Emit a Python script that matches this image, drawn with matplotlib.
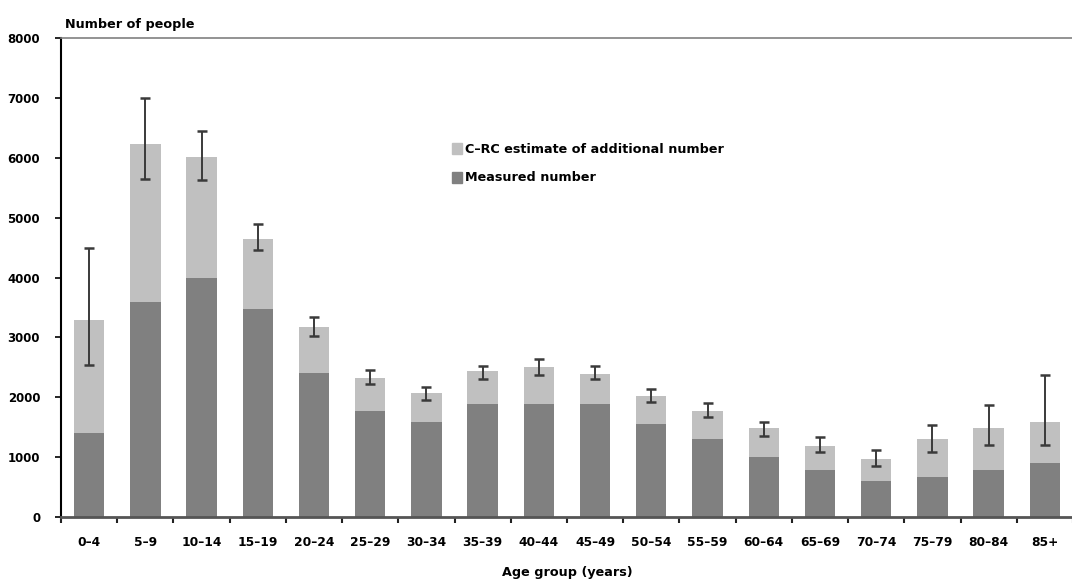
import numpy as np
import matplotlib.pyplot as plt
from matplotlib.patches import Patch

plt.rcParams['font.family'] = ['DejaVu Sans']
plt.rcParams['font.weight'] = 'bold'

age_groups = ["0\u20134", "5\u20139", "10\u201314", "15\u201319", "20\u201324", "25\u201329",
              "30\u201334", "35\u201339", "40\u201344", "45\u201349", "50\u201354", "55\u201359",
              "60\u201364", "65\u201369", "70\u201374", "75\u201379", "80\u201384", "85+"]
measured = [1410, 3590, 3990, 3470, 2400, 1775, 1595, 1890, 1890, 1890,
            1555, 1300, 1000, 780, 595, 670, 780, 895]
total = [3290, 6240, 6020, 4650, 3175, 2330, 2065, 2440, 2510, 2395,
         2025, 1775, 1480, 1185, 965, 1300, 1480, 1595]
err_low = [2535, 5650, 5630, 4455, 3025, 2215, 1955, 2300, 2380, 2300,
           1915, 1665, 1355, 1090, 855, 1090, 1210, 1210]
err_high = [4500, 6995, 6450, 4900, 3345, 2465, 2165, 2530, 2635, 2525,
            2135, 1905, 1580, 1330, 1120, 1535, 1870, 2375]

measured = np.array(measured)
total = np.array(total)
additional = total - measured
yerr = np.array([total - np.array(err_low), np.array(err_high) - total])

x = np.arange(len(age_groups))
fs_num = 8.5   # y tick digits
fs = 9.2       # words

fig = plt.figure(figsize=(10.72, 5.79), dpi=100)
ax = fig.add_axes([0.0569, 0.107, 0.944, 0.827])

ax.bar(x, measured, width=0.54, color="#808080", zorder=2)
ax.bar(x, additional, bottom=measured, width=0.54, color="#c0c0c0", zorder=2)
ax.errorbar(x, total, yerr=yerr, fmt="none", ecolor="#3a3a3a", elinewidth=1.4,
            capsize=3.5, capthick=1.8, zorder=3)

ax.set_xlim(-0.5, len(age_groups) - 0.5)
ax.set_ylim(0, 8000)
ax.set_yticks(np.arange(0, 8001, 1000))
ax.set_xticks(x)
ax.set_xticklabels(age_groups, fontsize=8.8, fontweight="bold")
ax.set_xticks(np.arange(-0.5, len(age_groups), 1), minor=True)
ax.tick_params(axis="x", which="major", length=0, pad=14)
ax.tick_params(axis="x", which="minor", length=4, width=1.5, direction="out", color="#222222")
ax.tick_params(axis="y", length=4, width=1.2, labelsize=fs_num, pad=11)
for lab in ax.get_yticklabels():
    lab.set_fontweight("bold")

ax.spines["right"].set_visible(False)
ax.spines["top"].set_color("#808080")
ax.spines["top"].set_linewidth(1.2)
ax.spines["left"].set_color("black")
ax.spines["left"].set_linewidth(1.5)
ax.spines["bottom"].set_color("#555555")
ax.spines["bottom"].set_linewidth(2)

fig.text(0.061, 0.958, "Number of people", fontsize=fs, fontweight="bold", va="center")
ax.set_xlabel("Age group (years)", fontsize=fs, fontweight="bold", labelpad=12)

handles = [Patch(color="#c0c0c0", label="C\u2013RC estimate of additional number"),
           Patch(color="#808080", label="Measured number")]
ax.legend(handles=handles, loc="upper left", bbox_to_anchor=(0.375, 0.805), frameon=False,
          handlelength=0.75, handleheight=0.95, handletextpad=0.3,
          labelspacing=1.2, prop={"weight": "bold", "size": fs})

fig.savefig("out.png", dpi=100)
